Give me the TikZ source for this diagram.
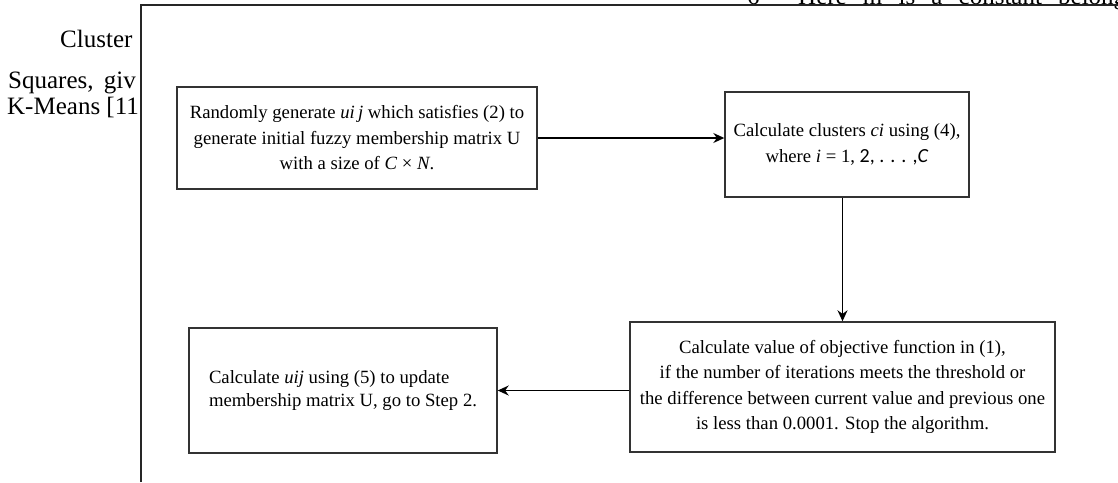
\documentclass[tikz,border=0pt]{standalone}
\usepackage{fontspec}
\setmainfont{Liberation Serif}
\newfontfamily\carlitofont{Carlito}
\usetikzlibrary{arrows.meta,calc}
\tikzset{
  stepbox/.style={draw=black!80, line width=1.4pt, rectangle, inner sep=0pt, align=center,
    font=\fontsize{18.7}{25.5}\selectfont},
  flow/.style={draw=black, line width=1.4pt, -{Stealth[length=11pt,width=10pt]}},
  framerule/.style={draw=black!85, line width=1.1pt},
  bgtext/.style={font=\fontsize{25}{26}\selectfont, inner sep=0pt, anchor=base west}
}
\begin{document}
\begin{tikzpicture}[x=1pt,y=-1pt]
\useasboundingbox (0,0) rectangle (1118,482);
% page fragments behind the figure
\begin{scope}
  \clip (0,0) rectangle (140,482);
  \node[bgtext] (t1) at (60,47) {Cluster};
  \node[bgtext] (t2) at (8,88) {Squares,\hspace{4pt} giv};
  \node[bgtext] (t3) at (7,114) {K-Means [11};
\end{scope}
\node[bgtext] (t4) at (747,4) {6};
\node[bgtext] (t5) at (798,4) {\hbox to 328pt{Here\hfill m\hfill is\hfill a\hfill constant\hfill belong}};
% frame
\coordinate (fbl) at (141,482);
\coordinate (ftl) at (141,5);
\coordinate (ftr) at (1118,5);
\draw[framerule] (fbl) -- (ftl) -- (ftr);
% boxes
\node[stepbox, minimum width=360pt, minimum height=102pt] (b1) at (357,138)
  {Randomly generate \textit{ui\,j} which satisfies (2) to\\generate initial fuzzy membership matrix U\\with a size of \textit{C} × \textit{N}.};
\node[stepbox, minimum width=244pt, minimum height=105pt] (b2) at (847,144.5)
  {Calculate clusters \textit{ci} using (4),\\where \textit{i} = 1, {\carlitofont\fontsize{20}{25}\selectfont 2, . . . ,\textit{C}}};
\node[stepbox, minimum width=425pt, minimum height=130pt] (b3) at (842.5,387)
  {Calculate value of objective function in (1),\\if the number of iterations meets the threshold or\\the difference between current value and previous one\\is less than 0.0001. Stop the algorithm.};
\node[stepbox, align=left, inner xsep=17pt, minimum width=308pt, minimum height=125pt,
  font=\fontsize{18.7}{23}\selectfont] (b4) at (343,390.5)
  {Calculate \textit{uij} using (5) to update\\membership matrix U, go to Step 2.};
% connectors
\draw[flow] (b1.east) -- (b1.east -| b2.west);
\draw[flow] (b2.south -| b3.north) -- (b3.north);
\draw[flow] (b3.west |- b4.east) -- (b4.east);
\end{tikzpicture}
\end{document}
